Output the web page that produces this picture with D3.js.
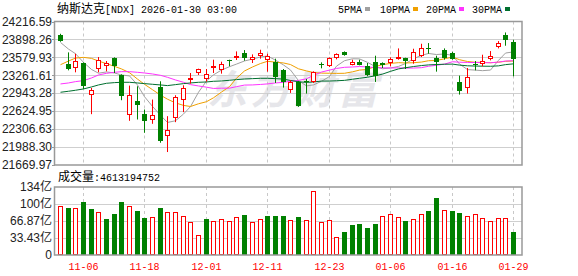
<!DOCTYPE html>
<html>
<head>
<meta charset="utf-8">
<script src="https://cdn.jsdelivr.net/npm/d3@7"></script>
<style>
  body { margin: 0; background: #fff; }
  svg { display: block; font-family: "Liberation Sans", Arial, sans-serif; }
</style>
</head>
<body>
<svg id="chart" width="578" height="276"></svg>
<script>
// Trading days shown on the chart
const dates = [
  '2025-11-03','2025-11-04','2025-11-05','2025-11-06','2025-11-07','2025-11-10','2025-11-11','2025-11-12','2025-11-13','2025-11-14',
  '2025-11-17','2025-11-18','2025-11-19','2025-11-20','2025-11-21','2025-11-24','2025-11-25','2025-11-26','2025-11-28','2025-12-01',
  '2025-12-02','2025-12-03','2025-12-04','2025-12-05','2025-12-08','2025-12-09','2025-12-10','2025-12-11','2025-12-12','2025-12-15',
  '2025-12-16','2025-12-17','2025-12-18','2025-12-19','2025-12-22','2025-12-23','2025-12-24','2025-12-26','2025-12-29','2025-12-30',
  '2025-12-31','2026-01-02','2026-01-05','2026-01-06','2026-01-07','2026-01-08','2026-01-09','2026-01-12','2026-01-13','2026-01-14',
  '2026-01-15','2026-01-16','2026-01-20','2026-01-21','2026-01-22','2026-01-23','2026-01-26','2026-01-27','2026-01-28','2026-01-29'
];

const open = [
  23974.9, 23467.9, 23391.3, 23473.8, 22913.8, 23373.6, 23426.7, 23568.1, 23267.5, 22560.1,
  22801.8, 22583.7, 22471.7, 23055.3, 22188.7, 22501.2, 22831.3, 23185.0, 23302.9, 23196.8,
  23403.1, 23350.0, 23532.8, 23591.7, 23656.6, 23538.7, 23597.6, 23538.7, 23497.4, 23350.0,
  22996.3, 23149.6, 23155.5, 23137.8, 23467.9, 23420.8, 23574.0, 23668.4, 23450.2, 23491.5,
  23432.6, 23497.4, 23473.8, 23479.7, 23550.5, 23562.3, 23515.1, 23609.4, 23739.1, 23574.0,
  23715.5, 23656.6, 23149.6, 23037.6, 23456.1, 23462.0, 23550.5, 23762.7, 23980.8, 23851.1
];
const high = [
  23998.5, 23668.4, 23644.8, 23491.5, 23037.6, 23585.8, 23515.1, 23579.9, 23279.3, 23078.9,
  23067.1, 22654.4, 22831.3, 23155.5, 22536.5, 22907.9, 23084.8, 23302.9, 23379.5, 23373.6,
  23538.7, 23503.3, 23538.7, 23686.0, 23709.6, 23633.0, 23715.5, 23644.8, 23556.4, 23373.6,
  23173.2, 23161.4, 23196.8, 23332.3, 23491.5, 23579.9, 23650.7, 23686.0, 23538.7, 23538.7,
  23479.7, 23609.4, 23491.5, 23579.9, 23739.1, 23574.0, 23733.2, 23821.6, 23833.4, 23609.4,
  23739.1, 23680.2, 23255.7, 23391.3, 23515.1, 23627.1, 23691.9, 23868.8, 24022.1, 23892.4
];
const low = [
  23857.0, 23350.0, 23314.7, 23019.9, 22571.9, 23314.7, 23332.3, 23302.9, 22819.5, 22454.0,
  22477.6, 22241.8, 22400.9, 22064.9, 21899.9, 22430.4, 22607.3, 23114.2, 23267.5, 23149.6,
  23302.9, 23291.1, 23420.8, 23532.8, 23521.0, 23479.7, 23556.4, 23326.5, 23126.0, 23043.5,
  22949.2, 22701.6, 22937.4, 23126.0, 23385.4, 23409.0, 23544.6, 23609.4, 23438.5, 23438.5,
  23243.9, 23143.7, 23391.3, 23420.8, 23538.7, 23373.6, 23467.9, 23585.8, 23644.8, 23326.5,
  23538.7, 23538.7, 22919.7, 22937.4, 23350.0, 23420.8, 23526.9, 23739.1, 23786.3, 23243.9
];
const close = [
  23868.8, 23373.6, 23515.1, 23067.1, 23002.2, 23538.7, 23485.6, 23420.8, 22890.2, 22919.7,
  22731.1, 22448.1, 22560.1, 22100.3, 22283.0, 22884.3, 23043.5, 23220.3, 23373.6, 23285.2,
  23426.7, 23467.9, 23521.0, 23603.5, 23562.3, 23591.7, 23656.6, 23609.4, 23232.1, 23137.8,
  23143.7, 22713.4, 23143.7, 23320.6, 23456.1, 23568.1, 23633.0, 23627.1, 23491.5, 23444.4,
  23261.6, 23249.8, 23444.4, 23556.4, 23585.8, 23515.1, 23674.3, 23745.0, 23727.3, 23491.5,
  23562.3, 23550.5, 22978.6, 23232.1, 23444.4, 23515.1, 23603.5, 23839.3, 23880.6, 23550.5
];

// Volume in 亿 (1e8)
const volume = [
  96.8, 92.9, 92.9, 103.4, 90.9, 85.0, 71.2, 79.7, 103.4, 96.8,
  87.0, 73.1, 75.1, 92.9, 85.0, 85.0, 77.1, 65.2, 38.9, 71.2,
  67.2, 71.2, 67.2, 75.1, 79.1, 65.2, 71.2, 77.1, 77.1, 77.1,
  69.2, 75.1, 69.2, 126.5, 65.2, 69.2, 35.6, 46.1, 59.3, 61.3,
  53.4, 61.3, 77.1, 81.0, 75.1, 67.2, 71.2, 81.0, 87.0, 112.6,
  88.9, 87.0, 83.0, 77.1, 81.0, 73.1, 67.2, 73.1, 73.1, 46.13
];
// volume bar colour: R = up (hollow red), G = down (green)
const volDir = 'RGRGGRGGGRGGRGRRRRRGRRRRGRRGGGRGRRRRRGGGGGRRRGRRGGRGGRRRRRRG'.split('');

const ma5 = [
  23845, 23727, 23645, 23492, 23365.4, 23299.3, 23321.7, 23302.9, 23267.5, 23251.0,
  23089.5, 22882.0, 22709.8, 22551.9, 22424.5, 22455.2, 22574.2, 22706.3, 22960.9, 23161.4,
  23269.9, 23354.7, 23414.9, 23460.9, 23516.3, 23549.3, 23587.0, 23604.7, 23530.4, 23445.5,
  23355.9, 23167.3, 23074.1, 23091.8, 23155.5, 23240.4, 23424.3, 23521.0, 23555.2, 23552.8,
  23491.5, 23414.9, 23378.3, 23391.3, 23419.6, 23470.3, 23555.2, 23615.3, 23649.5, 23630.6,
  23640.1, 23615.3, 23462.0, 23363.0, 23353.6, 23344.1, 23354.7, 23526.9, 23656.6, 23677.8
];
const ma10 = [
  23450, 23515, 23568, 23580, 23562, 23515, 23468, 23421, 23375, 23308.2,
  23194.4, 23101.9, 23006.4, 22909.7, 22837.8, 22772.4, 22728.1, 22708.1, 22756.4, 22793.0,
  22862.6, 22964.5, 23060.6, 23210.9, 23338.9, 23409.6, 23470.9, 23509.8, 23495.7, 23480.9,
  23452.6, 23377.2, 23339.4, 23311.1, 23300.5, 23298.2, 23295.8, 23297.6, 23323.5, 23354.2,
  23366.0, 23419.6, 23449.7, 23473.3, 23486.2, 23480.9, 23485.1, 23496.8, 23520.4, 23525.1,
  23555.2, 23585.3, 23538.7, 23506.3, 23492.1, 23492.1, 23485.0, 23494.5, 23509.8, 23515.7
];
const ma20 = [
  23108.4, 23126.0, 23149.6, 23167.3, 23214.5, 23267.5, 23297.0, 23314.7, 23326.5, 23326.5,
  23314.7, 23302.9, 23285.2, 23261.6, 23226.3, 23179.1, 23137.8, 23096.6, 23073.0, 23050.6,
  23028.5, 23033.2, 23033.5, 23060.3, 23088.4, 23091.0, 23099.5, 23109.0, 23126.1, 23137.0,
  23157.6, 23170.9, 23200.0, 23261.0, 23319.7, 23353.9, 23383.4, 23403.7, 23409.6, 23417.6,
  23409.3, 23398.4, 23394.6, 23392.2, 23393.4, 23389.6, 23390.5, 23397.2, 23422.0, 23439.7,
  23460.6, 23502.5, 23494.2, 23489.8, 23489.2, 23486.5, 23485.1, 23495.7, 23515.1, 23520.4
];
const ma30 = [
  22961.0, 22978.6, 22996.3, 23019.9, 23055.3, 23090.7, 23120.1, 23131.9, 23137.8, 23137.8,
  23126.0, 23114.2, 23102.4, 23090.7, 23078.9, 23096.6, 23114.2, 23126.0, 23137.8, 23143.7,
  23155.5, 23161.4, 23173.2, 23185.0, 23196.8, 23202.7, 23208.6, 23208.6, 23202.7, 23194.0,
  23169.9, 23147.9, 23135.5, 23143.9, 23159.1, 23160.1, 23164.9, 23171.8, 23191.9, 23209.4,
  23227.1, 23253.8, 23283.2, 23331.8, 23375.2, 23396.2, 23417.3, 23434.7, 23446.5, 23453.4,
  23457.9, 23460.7, 23442.6, 23430.2, 23426.3, 23423.7, 23422.0, 23429.6, 23451.2, 23465.0
];

const priceTicks = [24216.59, 23898.26, 23579.93, 23261.61, 22943.28, 22624.95, 22306.63, 21988.30, 21669.97];
const volTicks = [0, 33.435, 66.87, 100.305, 133.74];
const volTickLabels = ['0', '33.43亿', '66.87亿', '100亿', '134亿'];
const dateTicks = ['2025-11-06', '2025-11-18', '2025-12-01', '2025-12-11', '2025-12-23', '2026-01-06', '2026-01-16', '2026-01-29'];
const maSeries = [
  { name: '5PMA', values: ma5, color: '#a0a0a0' },
  { name: '10PMA', values: ma10, color: '#f0a000' },
  { name: '20PMA', values: ma20, color: '#ff33ff' },
  { name: '30PMA', values: ma30, color: '#006f2f' }
];
const titleCn = '纳斯达克';
const titleRest = '[NDX] 2026-01-30 03:00';
const volTitleCn = '成交量';
const volTitleRest = ':4613194752';

const RED = '#ff0000', GREEN = '#008000';
const L = 55, R = 522, T = 21.5, B = 165, VT = 187, VB = 255;
const MONO = '"Liberation Mono", monospace';
const CN = '"Noto Sans CJK SC", sans-serif';

const svg = d3.select('#chart');

const x = d3.scaleBand().domain(dates).range([56.5, 517.3]);
const cx = (d) => Math.floor(x(d) + x.bandwidth() / 2);
const y = d3.scaleLinear().domain([priceTicks[8], priceTicks[0]]).range([B, T]);
const yv = d3.scaleLinear().domain([0, 133.74]).range([VB, VT]);

// mono text at ~6px per char, like the bitmap font of the original
function monoText(sel, str) {
  return sel.attr('font-family', MONO).attr('font-size', 11.5)
    .attr('textLength', str.length * 6).attr('lengthAdjust', 'spacingAndGlyphs')
    .text(str);
}

// watermark
svg.append('text')
  .attr('x', 207).attr('y', 104)
  .attr('textLength', 171)
  .attr('font-family', CN)
  .attr('font-size', 40).attr('font-weight', 'bold')
  .attr('font-style', 'italic')
  .attr('fill', '#e6e6ea')
  .text('东方财富');

// grids
svg.append('g').selectAll('line').data(priceTicks.slice(1, 8)).join('line')
  .attr('x1', L).attr('x2', R)
  .attr('y1', (d) => Math.round(y(d)) + 0.5).attr('y2', (d) => Math.round(y(d)) + 0.5)
  .attr('stroke', '#cfcfcf');

svg.append('g').selectAll('line').data(volTicks.slice(1, 4)).join('line')
  .attr('x1', L).attr('x2', R)
  .attr('y1', (d) => Math.round(yv(d)) + 0.5).attr('y2', (d) => Math.round(yv(d)) + 0.5)
  .attr('stroke', '#cfcfcf');

[[T, B], [VT, VB]].forEach(([y0, y1]) => {
  svg.append('g').selectAll('line').data(dateTicks).join('line')
    .attr('x1', (d) => cx(d) + 0.5).attr('x2', (d) => cx(d) + 0.5)
    .attr('y1', y0).attr('y2', y1)
    .attr('stroke', '#c8c8c8')
    .attr('stroke-dasharray', '3,3');
});

// moving average lines
maSeries.forEach((s) => {
  svg.append('path')
    .datum(s.values)
    .attr('fill', 'none')
    .attr('stroke', s.color)
    .attr('stroke-width', 1)
    .attr('d', d3.line().x((v, i) => cx(dates[i]) + 0.5).y((v) => y(v)));
});

// candles
const candles = dates.map((d, i) => ({ d, o: open[i], h: high[i], l: low[i], c: close[i] }));
const cg = svg.append('g');
cg.selectAll('line').data(candles).join('line')
  .attr('x1', (k) => cx(k.d) + 0.5).attr('x2', (k) => cx(k.d) + 0.5)
  .attr('y1', (k) => y(k.h)).attr('y2', (k) => y(k.l))
  .attr('stroke', (k) => (k.c > k.o ? RED : GREEN));

cg.selectAll('rect').data(candles).join('rect')
  .each(function (k) {
    const up = k.c > k.o;
    const top = Math.round(y(Math.max(k.o, k.c)));
    const bot = Math.max(Math.round(y(Math.min(k.o, k.c))), top + 1);
    const r = d3.select(this);
    if (up) {
      r.attr('x', cx(k.d) - 1.5).attr('width', 4)
        .attr('y', top + 0.5).attr('height', Math.max(bot - top - 1, 1))
        .attr('fill', '#fff').attr('stroke', RED);
    } else {
      r.attr('x', cx(k.d) - 2).attr('width', 5)
        .attr('y', top).attr('height', bot - top)
        .attr('fill', GREEN);
    }
  });

// volume bars
const vols = dates.map((d, i) => ({ d, v: volume[i], up: volDir[i] === 'R' }));
svg.append('g').selectAll('rect').data(vols).join('rect')
  .each(function (k) {
    const top = Math.round(yv(k.v));
    const r = d3.select(this);
    if (k.up) {
      r.attr('x', cx(k.d) - 1.5).attr('width', 4)
        .attr('y', top + 0.5).attr('height', VB - top - 1)
        .attr('fill', '#fff').attr('stroke', RED);
    } else {
      r.attr('x', cx(k.d) - 2).attr('width', 5)
        .attr('y', top).attr('height', VB - top)
        .attr('fill', GREEN);
    }
  });

// frames
svg.append('rect').attr('x', L - 0.5).attr('y', T).attr('width', R - L + 0.5).attr('height', B - T)
  .attr('fill', 'none').attr('stroke', '#999').attr('stroke-width', 1.5);
svg.append('rect').attr('x', L - 0.5).attr('y', VT).attr('width', R - L + 0.5).attr('height', VB - VT)
  .attr('fill', 'none').attr('stroke', '#999').attr('stroke-width', 1.5);

// price axis labels
const fmt = d3.format('.2f');
svg.append('g').selectAll('text').data(priceTicks).join('text')
  .attr('x', 52).attr('y', (d) => y(d)).attr('dy', '0.35em')
  .attr('text-anchor', 'end').attr('font-size', 12).attr('fill', '#222')
  .text((d) => fmt(d));

svg.append('g').selectAll('line').data(priceTicks).join('line')
  .attr('x1', 52).attr('x2', L)
  .attr('y1', (d) => Math.round(y(d)) + 0.5).attr('y2', (d) => Math.round(y(d)) + 0.5)
  .attr('stroke', '#999');

// volume axis labels
svg.append('g').selectAll('text').data(volTicks).join('text')
  .attr('x', 52).attr('y', (d) => yv(d)).attr('dy', '0.35em')
  .attr('text-anchor', 'end').attr('font-size', 12).attr('fill', '#222')
  .attr('font-family', '"Liberation Sans", "Noto Sans CJK SC", sans-serif')
  .text((d, i) => volTickLabels[i]);

// date labels
svg.append('g').selectAll('text').data(dateTicks).join('text')
  .attr('x', (d) => cx(d) + 0.5 - 15).attr('y', 270)
  .attr('fill', RED)
  .each(function (d) { monoText(d3.select(this), d.slice(5)); });

// header title
svg.append('text').attr('x', 57).attr('y', 13).attr('fill', '#000')
  .attr('font-family', CN).attr('font-size', 12).text(titleCn);
monoText(svg.append('text').attr('x', 105).attr('y', 13).attr('fill', '#000'), titleRest);

// legend
const legendX = [338, 380, 426, 472];
const lg = svg.append('g').selectAll('g').data(maSeries).join('g')
  .attr('transform', (s, i) => `translate(${legendX[i]},0)`);
lg.append('text')
  .attr('y', 13).attr('fill', '#000')
  .each(function (s) { monoText(d3.select(this), s.name); });
lg.append('rect')
  .attr('x', (s) => s.name.length * 6 + 3).attr('y', 7)
  .attr('width', 5).attr('height', 4)
  .attr('fill', (s) => s.color);

// volume title
svg.append('text').attr('x', 58).attr('y', 181).attr('fill', '#000')
  .attr('font-family', CN).attr('font-size', 12).text(volTitleCn);
monoText(svg.append('text').attr('x', 94).attr('y', 181).attr('fill', '#000'), volTitleRest);
</script>
</body>
</html>
